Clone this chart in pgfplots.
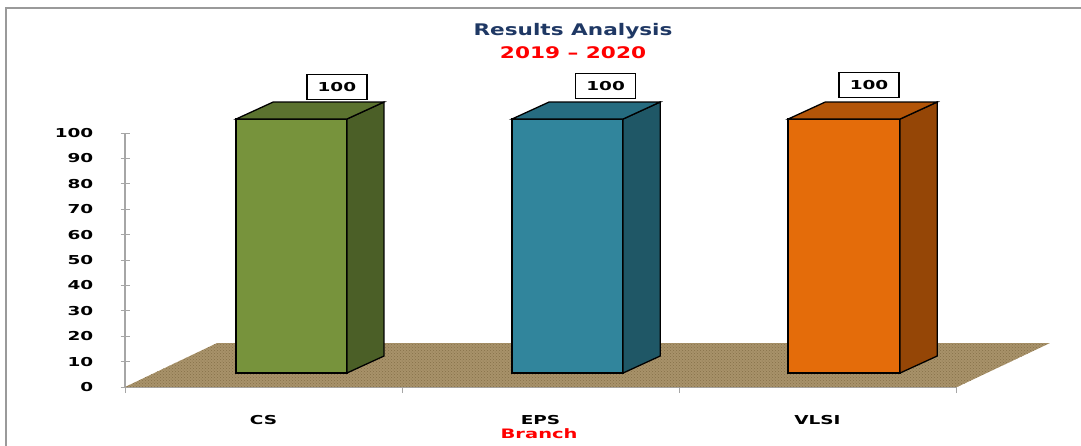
\documentclass[border=0pt]{standalone}
\usepackage{pgfplots}
\pgfplotsset{compat=1.18}
\usetikzlibrary{patterns}
\usepackage{fontspec}
\setmainfont{DejaVu Sans}
\newfontfamily\labfont[FakeStretch=1.5]{DejaVu Sans}
\newfontfamily\titfont[FakeStretch=1.35]{DejaVu Sans}
\definecolor{axisgray}{HTML}{A6A6A6}
\definecolor{framegray}{HTML}{9A9A9A}
\definecolor{floorc}{HTML}{A8926A}
\definecolor{floord}{HTML}{857049}
\definecolor{gfront}{HTML}{77933C}
\definecolor{gtop}{HTML}{5B722F}
\definecolor{gside}{HTML}{4B5F27}
\definecolor{tfront}{HTML}{31859C}
\definecolor{ttop}{HTML}{266C80}
\definecolor{tside}{HTML}{1F5766}
\definecolor{ofront}{HTML}{E46C0A}
\definecolor{otop}{HTML}{B35508}
\definecolor{oside}{HTML}{954606}
\definecolor{titleblue}{HTML}{1F3864}
\begin{document}
\begin{tikzpicture}
\path[use as bounding box] (0pt,0pt) rectangle (1081pt,-445pt);
\draw[framegray, line width=1.5pt] (6pt,-446pt) -- (6pt,-8pt) -- (1082pt,-8pt);
\begin{axis}[
  at={(125pt,-387pt)}, anchor=south west,
  scale only axis, width=831pt, height=254pt,
  xmin=0, xmax=3, ymin=0, ymax=100,
  clip=false,
  axis x line=bottom, axis y line=left,
  axis line style={draw=axisgray, line width=1.2pt, -},
  /pgf/number format/assume math mode=true,
  tick align=center,
  major tick length=9pt,
  minor tick length=6pt,
  ytick={0,10,...,100},
  y tick style={draw=axisgray, line width=1pt},
  xtick={0.5,1.5,2.5},
  xticklabels={CS,EPS,VLSI},
  major x tick style={draw=none},
  minor xtick={0,1,2,3},
  minor x tick style={draw=axisgray, line width=1pt, yshift=-3pt},
  tick label style={font=\labfont\bfseries\fontsize{12.3}{14}\selectfont, text=black},
  yticklabel style={anchor=east, inner sep=0pt, xshift=-27pt},
  xticklabel style={anchor=base, inner sep=0pt, yshift=-33pt},
  xlabel={Branch},
  every axis x label/.style={at={(axis cs:1.495,0)}, anchor=base, inner sep=0pt, yshift=-51pt, text=red, font=\labfont\bfseries\fontsize{13}{15}\selectfont},
]
% floor
\addplot[fill=floorc, draw=none] coordinates {(0,0) (3.004,0) (3.339,17.3) (0.332,17.3)} -- cycle;
\addplot[pattern=crosshatch dots, pattern color=floord, draw=none] coordinates {(0,0) (3.004,0) (3.339,17.3) (0.332,17.3)} -- cycle;
% CS
\addplot[fill=gfront, draw=black, line width=1.3pt] coordinates {(0.401,5.5) (0.801,5.5) (0.801,105.5) (0.401,105.5)} -- cycle;
\addplot[fill=gside, draw=black, line width=1.3pt] coordinates {(0.801,5.5) (0.935,12.2) (0.935,112.2) (0.801,105.5)} -- cycle;
\addplot[fill=gtop, draw=black, line width=1.3pt] coordinates {(0.401,105.5) (0.535,112.2) (0.935,112.2) (0.801,105.5)} -- cycle;
% EPS
\addplot[fill=tfront, draw=black, line width=1.3pt] coordinates {(1.397,5.5) (1.798,5.5) (1.798,105.5) (1.397,105.5)} -- cycle;
\addplot[fill=tside, draw=black, line width=1.3pt] coordinates {(1.798,5.5) (1.932,12.2) (1.932,112.2) (1.798,105.5)} -- cycle;
\addplot[fill=ttop, draw=black, line width=1.3pt] coordinates {(1.397,105.5) (1.531,112.2) (1.932,112.2) (1.798,105.5)} -- cycle;
% VLSI
\addplot[fill=ofront, draw=black, line width=1.3pt] coordinates {(2.394,5.5) (2.798,5.5) (2.798,105.5) (2.394,105.5)} -- cycle;
\addplot[fill=oside, draw=black, line width=1.3pt] coordinates {(2.798,5.5) (2.932,12.2) (2.932,112.2) (2.798,105.5)} -- cycle;
\addplot[fill=otop, draw=black, line width=1.3pt] coordinates {(2.394,105.5) (2.528,112.2) (2.932,112.2) (2.798,105.5)} -- cycle;
% value labels
\tikzset{vlab/.style={draw=black, fill=white, line width=1.3pt, minimum width=60pt, minimum height=25pt, inner sep=0pt, font=\labfont\bfseries\fontsize{12.3}{14}\selectfont}}
\node[vlab] at (axis cs:0.765,118.1) {100};
\node[vlab] at (axis cs:1.735,118.5) {100};
\node[vlab] at (axis cs:2.686,119) {100};
\end{axis}
\node[anchor=base, text=titleblue, font=\titfont\bfseries\fontsize{16}{18}\selectfont] at (573pt,-35pt) {Results Analysis};
\node[anchor=base, text=red, font=\titfont\bfseries\fontsize{16}{18}\selectfont] at (573pt,-58pt) {2019 – 2020};
\end{tikzpicture}
\end{document}
